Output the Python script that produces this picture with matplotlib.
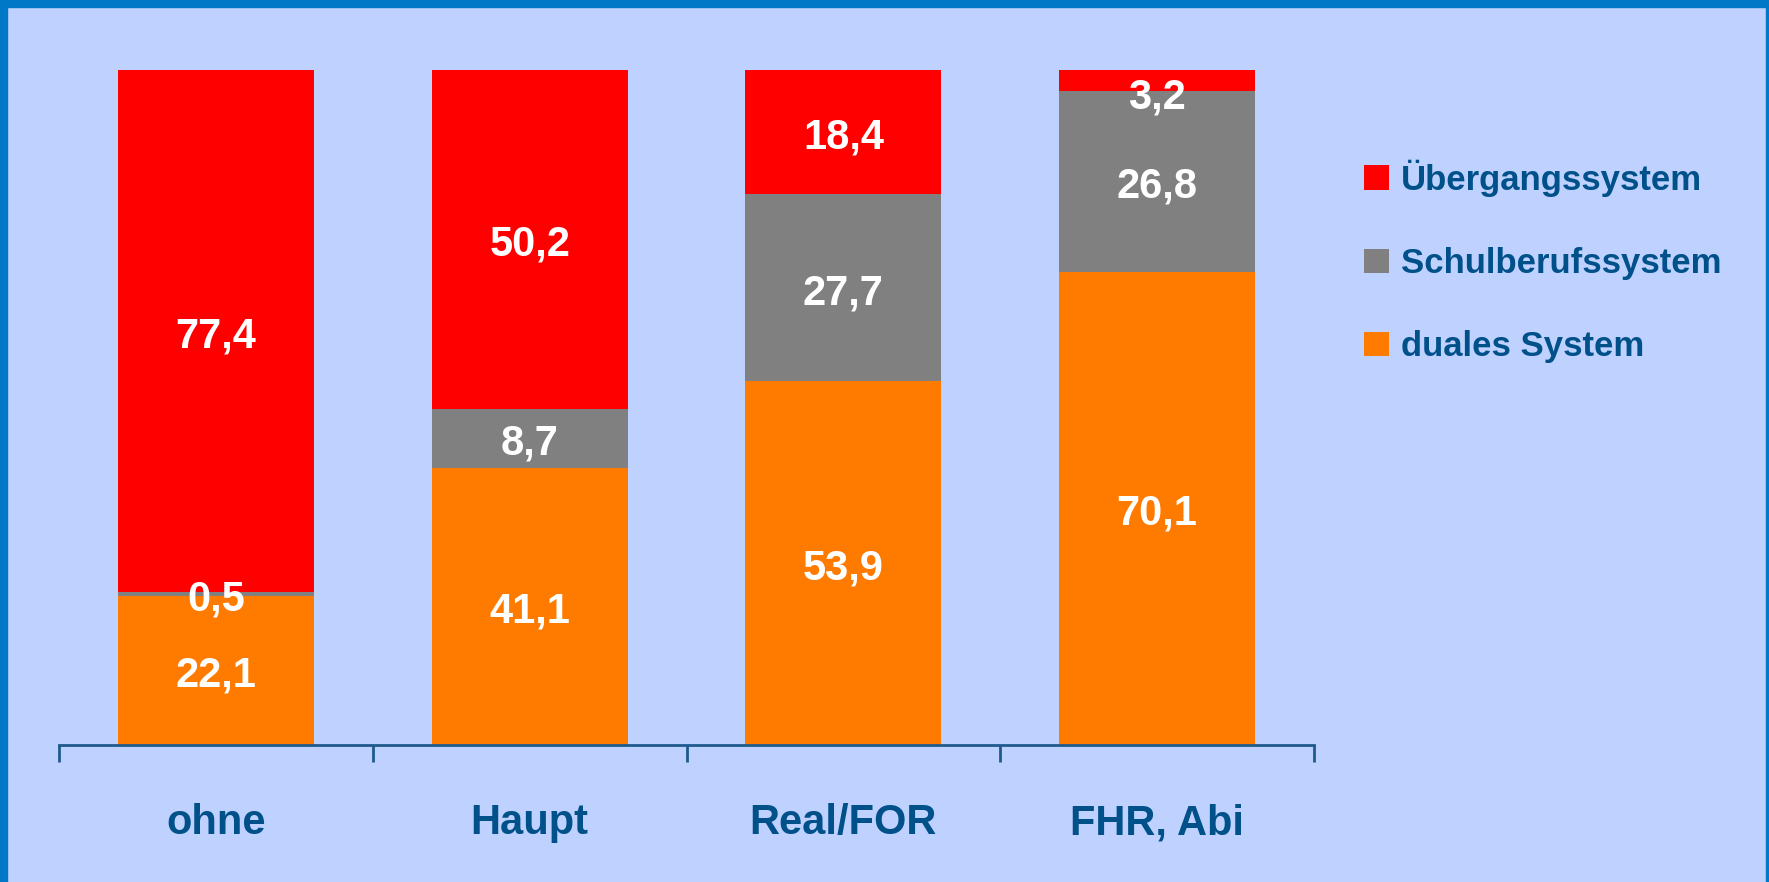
import matplotlib
matplotlib.use("Agg")
import matplotlib.pyplot as plt
from matplotlib.patches import Patch, Rectangle
import matplotlib.transforms as mtransforms

categories = ["ohne", "Haupt", "Real/FOR", "FHR, Abi"]
dual = [22.1, 41.1, 53.9, 70.1]
schul = [0.5, 8.7, 27.7, 26.8]
uebergang = [77.4, 50.2, 18.4, 3.2]
series_names = ["Übergangssystem", "Schulberufssystem", "duales System"]
label_strings = {
    "dual": ["22,1", "41,1", "53,9", "70,1"],
    "schul": ["0,5", "8,7", "27,7", "26,8"],
    "ueber": ["77,4", "50,2", "18,4", "3,2"],
}

C_RED = "#FF0000"
C_GRAY = "#808080"
C_ORANGE = "#FF7B00"
BG = "#BFD2FF"
BORDER = "#0078C8"
TXT = "#00508A"

plt.rcParams["font.family"] = ["Liberation Sans", "DejaVu Sans"]
plt.rcParams["font.weight"] = "bold"

fig = plt.figure(figsize=(17.69, 8.82), dpi=100, facecolor=BG)
ax = fig.add_axes([59/1769, 1-745/882, (1314-59)/1769, (745-70)/882])
ax.set_facecolor(BG)

x = list(range(len(categories)))
w = 0.625
ax.bar(x, dual, w, color=C_ORANGE, zorder=2)
bottom2 = dual
ax.bar(x, schul, w, bottom=bottom2, color=C_GRAY, zorder=2)
bottom3 = [a + b for a, b in zip(dual, schul)]
ax.bar(x, uebergang, w, bottom=bottom3, color=C_RED, zorder=2)

VAL_FS = 30

def put_labels(vals, bottoms, labels):
    for xi, v, b, s in zip(x, vals, bottoms, labels):
        c = b + v / 2
        if c > 97:
            tr = ax.transData + mtransforms.ScaledTranslation(0, -6/72, fig.dpi_scale_trans)
            ax.text(xi, b + v, s, transform=tr, ha="center", va="top", color="white",
                    fontsize=VAL_FS, fontweight="bold", zorder=3, clip_on=False)
        else:
            tr = ax.transData + mtransforms.ScaledTranslation(0, -4/72, fig.dpi_scale_trans)
            ax.text(xi, c, s, transform=tr, ha="center", va="center", color="white",
                    fontsize=VAL_FS, fontweight="bold", zorder=3)

put_labels(dual, [0]*4, label_strings["dual"])
put_labels(schul, bottom2, label_strings["schul"])
put_labels(uebergang, bottom3, label_strings["ueber"])

ax.set_xlim(-0.5, len(categories) - 0.5)
ax.set_ylim(0, 100)
ax.set_yticks([])
for s in ["top", "right", "left"]:
    ax.spines[s].set_visible(False)
ax.spines["bottom"].set_color("#1F5A8C")
ax.spines["bottom"].set_linewidth(2)
ax.set_xticks(x)
ax.set_xticklabels(categories, fontsize=30, fontweight="bold", color=TXT)
ax.tick_params(axis="x", which="major", length=0, pad=42)
ax.set_xticks([i - 0.5 for i in range(len(categories) + 1)], minor=True)
ax.tick_params(axis="x", which="minor", length=12, width=2, color="#1F5A8C", direction="out")

handles = [Patch(facecolor=C_RED), Patch(facecolor=C_GRAY), Patch(facecolor=C_ORANGE)]
leg = fig.legend(handles, series_names, loc="upper left", bbox_to_anchor=(1333/1769, 1-128/882),
                 frameon=False, fontsize=25, handlelength=0.7, handleheight=0.7,
                 handletextpad=0.35, labelspacing=1.45)
for t in leg.get_texts():
    t.set_color(TXT)
    t.set_fontweight("bold")

# border
fig.patches.append(Rectangle((0, 1 - 7/882), 1, 7/882, transform=fig.transFigure, color=BORDER, zorder=10))
fig.patches.append(Rectangle((0, 0), 7/1769, 1, transform=fig.transFigure, color=BORDER, zorder=10))
fig.patches.append(Rectangle((1 - 3/1769, 0), 3/1769, 1, transform=fig.transFigure, color=BORDER, zorder=10))

fig.savefig("out.png", dpi=100, facecolor=BG)
